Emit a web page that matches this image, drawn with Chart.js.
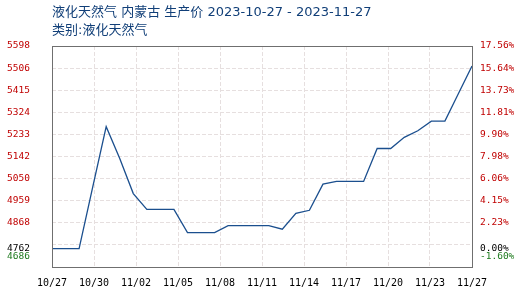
<!DOCTYPE html>
<html>
<head>
<meta charset="utf-8">
<script src="https://cdn.jsdelivr.net/npm/chart.js@4/dist/chart.umd.min.js"></script>
<style>
  html, body { margin: 0; padding: 0; background: #fff; }
  #wrap { position: relative; width: 517px; height: 302px; }
  #title { position: absolute; left: 52px; top: 3px; font: 13px "DejaVu Sans", "Noto Sans CJK SC", sans-serif; line-height: 18px; color: #113f78; z-index: 2; }
  canvas { position: absolute; left: 0; top: 0; }
</style>
</head>
<body>
<div id="wrap">
  <div id="title">液化天然气 内蒙古 生产价 2023-10-27 - 2023-11-27<br>类别:液化天然气</div>
  <canvas id="chart" width="517" height="302"></canvas>
</div>
<script>
// 日期 (每日一条)
const dates = [
    '10/27', '10/28', '10/29', '10/30', '10/31', '11/01', '11/02', '11/03',
    '11/04', '11/05', '11/06', '11/07', '11/08', '11/09', '11/10', '11/11',
    '11/12', '11/13', '11/14', '11/15', '11/16', '11/17', '11/18', '11/19',
    '11/20', '11/21', '11/22', '11/23', '11/24', '11/25', '11/26', '11/27',
];
// 价格 (元/吨)
const prices = [
    4762, 4762, 4762, 5015, 5265, 5134, 4989, 4924,
    4924, 4924, 4828, 4828, 4828, 4857, 4857, 4857,
    4857, 4842, 4907, 4920, 5028, 5039, 5039, 5039,
    5175, 5175, 5221, 5248, 5288, 5288, 5402, 5515,
];
const basePrice = 4762;
const yMin = 4686;
const yMax = 5598;

// 坐标轴刻度
const yTickValues = [4686, 4762, 4777.2, 4868.4, 4959.6, 5050.8, 5142, 5233.2, 5324.4, 5415.6, 5506.8, 5598];
const yTickLabels = [['4686', '', ''], '4762', '', '4868', '4959', '5050', '5142', '5233', '5324', '5415', '5506', '5598'];
const pctTickLabels = [['-1.60%', '', ''], '0.00%', '', '2.23%', '4.15%', '6.06%', '7.98%', '9.90%', '11.81%', '13.73%', '15.64%', '17.56%'];
const xTickLabels = ['10/27', '10/30', '11/02', '11/05', '11/08', '11/11', '11/14', '11/17', '11/20', '11/23', '11/27'];

const gridColor = '#e6dfdf';
const frameColor = '#6f6f6f';

function tickColor(ctx) {
    const v = ctx.tick.value;
    if (v === yMin) return '#1e7a1e';
    if (v === basePrice) return '#000000';
    return '#c00000';
}

function hLine(ctx) {
    const v = ctx.tick.value;
    if (v === basePrice || v === yMin || v === yMax) return 'rgba(0,0,0,0)';
    return gridColor;
}

const framePlugin = {
    id: 'frame',
    afterDatasetsDraw(chart) {
        const { ctx, chartArea: a } = chart;
        ctx.save();
        ctx.strokeStyle = frameColor;
        ctx.lineWidth = 1;
        ctx.strokeRect(Math.round(a.left) + 0.5, Math.round(a.top) + 0.5,
            Math.round(a.right - a.left), Math.round(a.bottom - a.top));
        ctx.restore();
    },
};

const lastIndex = dates.length - 1;

new Chart(document.getElementById('chart'), {
    type: 'line',
    data: {
        datasets: [{
            data: prices.map((p, i) => ({ x: i, y: p })),
            borderColor: '#1b4f8e',
            borderWidth: 1.3,
            pointRadius: 0,
            tension: 0,
            fill: false,
        }],
    },
    options: {
        responsive: false,
        animation: false,
        layout: { padding: { top: 46, right: 0, bottom: 0, left: 0 } },
        plugins: {
            legend: { display: false },
            title: { display: false },
            tooltip: { enabled: false },
        },
        scales: {
            x: {
                type: 'linear',
                min: 0,
                max: lastIndex,
                afterBuildTicks: (s) => {
                    s.ticks = xTickLabels.map((t, i) => ({ value: i * lastIndex / (xTickLabels.length - 1) }));
                },
                afterFit: (s) => { s.height = 35; },
                grid: { color: gridColor, drawTicks: false, lineWidth: 1 },
                border: { display: false, dash: [4, 2] },
                ticks: {
                    padding: 10,
                    maxRotation: 0,
                    autoSkip: false,
                    color: '#000',
                    font: { family: 'DejaVu Sans Mono', size: 10 },
                    callback: (v, i) => xTickLabels[i],
                },
            },
            y: {
                position: 'left',
                min: yMin,
                max: yMax,
                afterBuildTicks: (s) => { s.ticks = yTickValues.map((v) => ({ value: v })); },
                afterFit: (s) => { s.width = 52; s.paddingBottom = 0; s.paddingTop = 0; },
                grid: { color: hLine, drawTicks: false, lineWidth: 1 },
                border: { display: false, dash: [4, 2] },
                ticks: {
                    padding: 22,
                    autoSkip: false,
                    color: tickColor,
                    font: { family: 'DejaVu Sans Mono', size: 9.5, lineHeight: 1.05 },
                    callback: (v, i) => yTickLabels[i],
                },
            },
            y2: {
                position: 'right',
                min: yMin,
                max: yMax,
                afterBuildTicks: (s) => { s.ticks = yTickValues.map((v) => ({ value: v })); },
                afterFit: (s) => { s.width = 45; s.paddingBottom = 0; s.paddingTop = 0; },
                grid: { display: false, drawTicks: false },
                border: { display: false },
                ticks: {
                    padding: 8,
                    autoSkip: false,
                    color: tickColor,
                    font: { family: 'DejaVu Sans Mono', size: 9.5, lineHeight: 1.05 },
                    callback: (v, i) => pctTickLabels[i],
                },
            },
        },
    },
    plugins: [framePlugin],
});
</script>
</body>
</html>
